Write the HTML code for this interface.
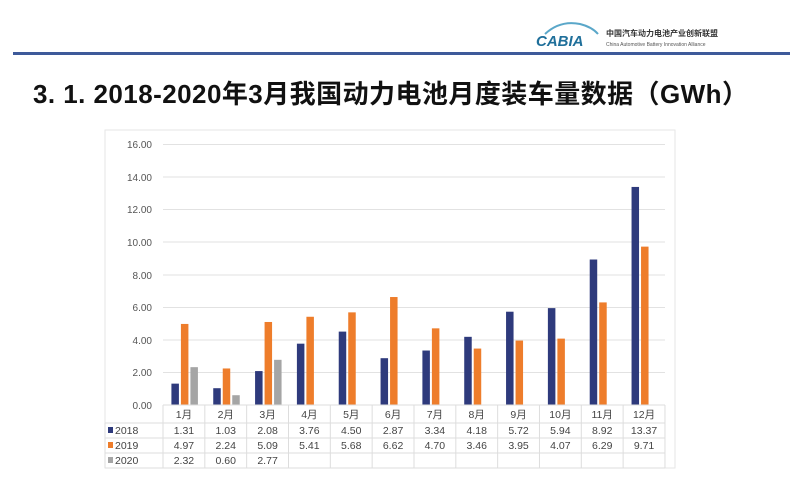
<!DOCTYPE html>
<html><head><meta charset="utf-8"><style>
body{margin:0;width:800px;height:477px;background:#fff;overflow:hidden;font-family:"Liberation Sans","Noto Sans CJK SC",sans-serif}
</style></head><body>
<svg width="800" height="477" xmlns="http://www.w3.org/2000/svg" font-family="Liberation Sans, Noto Sans CJK SC, sans-serif">
<!-- logo -->
<path d="M545 34 Q560 20 580 24 Q592 27 598 34" fill="none" stroke="#5aa7c9" stroke-width="2"/>
<text x="536" y="46" font-size="15" font-style="italic" font-weight="bold" fill="#1f6f9a">CABIA</text>
<text x="606" y="36" font-size="8" font-weight="bold" fill="#333">中国汽车动力电池产业创新联盟</text>
<text x="606" y="46" font-size="5" fill="#555">China Automotive Battery Innovation Alliance</text>
<rect x="13" y="52" width="777" height="3" fill="#3e5a9a"/>
<text x="33" y="103" font-size="26" font-weight="bold" fill="#111" font-family="Liberation Sans Narrow, Liberation Sans, Noto Sans CJK SC, sans-serif" textLength="715">3. 1. 2018-2020年3月我国动力电池月度装车量数据（GWh）</text>
<!-- chart frame -->
<rect x="105" y="130" width="570" height="338" fill="none" stroke="#e6e6e6"/>
<g stroke="#e2e2e2" stroke-width="1">
<line x1="163" y1="144.5" x2="665" y2="144.5"/><line x1="163" y1="177" x2="665" y2="177"/>
<line x1="163" y1="209.5" x2="665" y2="209.5"/><line x1="163" y1="242" x2="665" y2="242"/>
<line x1="163" y1="275" x2="665" y2="275"/><line x1="163" y1="307.5" x2="665" y2="307.5"/>
<line x1="163" y1="340" x2="665" y2="340"/><line x1="163" y1="372.5" x2="665" y2="372.5"/>
</g>
<g font-size="10" fill="#555" text-anchor="end">
<text x="152" y="148">16.00</text><text x="152" y="181">14.00</text><text x="152" y="213">12.00</text>
<text x="152" y="246">10.00</text><text x="152" y="279">8.00</text><text x="152" y="311">6.00</text>
<text x="152" y="344">4.00</text><text x="152" y="376">2.00</text><text x="152" y="409">0.00</text>
</g>
<g id="bars"></g>
<!-- table grid -->
<g stroke="#ddd" fill="none">
<line x1="163" y1="405" x2="665" y2="405"/>
<line x1="105" y1="423" x2="665" y2="423"/>
<line x1="105" y1="438" x2="665" y2="438"/>
<line x1="105" y1="453" x2="665" y2="453"/>
<line x1="105" y1="468" x2="665" y2="468"/>
</g>
<g id="vl" stroke="#ddd"></g>
<g font-size="10.5" fill="#444">
<rect x="108" y="427" width="5" height="6" fill="#2e3a7c"/><text x="115" y="434">2018</text>
<rect x="108" y="442" width="5" height="6" fill="#ee7d2b"/><text x="115" y="449">2019</text>
<rect x="108" y="457" width="5" height="6" fill="#a5a5a5"/><text x="115" y="464">2020</text>
</g>
<g id="tx" font-size="10.5" fill="#444" text-anchor="middle"></g>
</svg>
<script>
var d18=[1.31,1.03,2.08,3.76,4.50,2.87,3.34,4.18,5.72,5.94,8.92,13.37],
d19=[4.97,2.24,5.09,5.41,5.68,6.62,4.70,3.46,3.95,4.07,6.29,9.71],
d20=[2.32,0.60,2.77];
var ns="http://www.w3.org/2000/svg",b=document.getElementById('bars'),t=document.getElementById('tx'),v=document.getElementById('vl');
function el(p,n,a,txt){var e=document.createElementNS(ns,n);for(var k in a)e.setAttribute(k,a[k]);if(txt)e.textContent=txt;p.appendChild(e);}
var W=41.83,s=16.31;
for(var i=0;i<=12;i++){el(v,'line',{x1:163+i*W,x2:163+i*W,y1:405,y2:468});}
el(v,'line',{x1:105,x2:105,y1:423,y2:468});
for(var i=0;i<12;i++){var c=163+W*i+W/2;
el(b,'rect',{x:c-12.5,y:405-d18[i]*s,width:7.5,height:d18[i]*s,fill:'#2e3a7c'});
el(b,'rect',{x:c-3,y:405-d19[i]*s,width:7.5,height:d19[i]*s,fill:'#ee7d2b'});
if(i<3)el(b,'rect',{x:c+6.5,y:405-d20[i]*s,width:7.5,height:d20[i]*s,fill:'#a5a5a5'});
el(t,'text',{x:c,y:418},(i+1)+'月');
el(t,'text',{x:c,y:434},d18[i].toFixed(2));
el(t,'text',{x:c,y:449},d19[i].toFixed(2));
if(i<3)el(t,'text',{x:c,y:464},d20[i].toFixed(2));}
</script>
</body></html>
